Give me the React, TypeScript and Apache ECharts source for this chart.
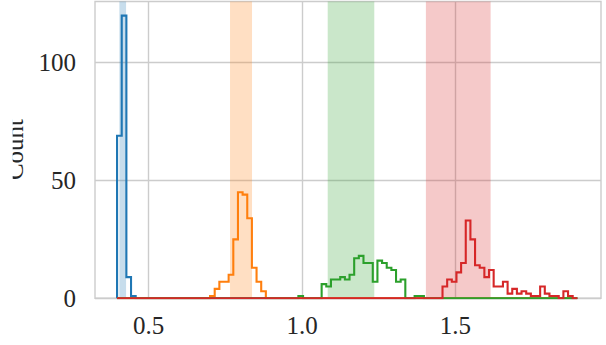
import React, { useEffect, useRef } from "react";
import * as echarts from "echarts";

// Shared histogram bins (x units)
const binStart = 0.397;
const binWidth = 0.01516;
const binCount = 99;

// Counts per hue, starting at the given bin index
const blueFirstBin = 0;
const blueCounts = [69, 120, 9, 1];
const orangeFirstBin = 20;
const orangeCounts = [1, 4, 7, 7, 10, 25, 45, 44, 34, 13, 7, 3];
const greenFirstBin = 39;
const greenCounts = [1, 0, 0, 0, 0, 6, 5, 8, 8, 9, 8, 10, 17, 18, 15, 15, 7, 16, 15, 13, 12, 7, 8, 0, 0, 1, 1];
const redFirstBin = 70;
const redCounts = [5, 8, 7, 11, 15, 33, 25, 14, 13, 9, 12, 5, 5, 7, 2, 4, 2, 3, 2, 1, 1, 5, 2, 1, 1, 0, 3, 1, 0];

// Shaded vertical bands [from, to]
const blueBand = [0.4045, 0.4263];
const orangeBand = [0.7653, 0.837];
const greenBand = [1.0838, 1.2357];
const redBand = [1.404, 1.615];

const xTicks = [0.5, 1.0, 1.5];
const yTicks = [0, 50, 100];

const colors = {
  blue: "#1f77b4",
  orange: "#ff7f0e",
  green: "#2ca02c",
  red: "#d62728",
};
const bandColors = {
  blue: "rgba(31,119,180,0.25)",
  orange: "rgba(255,127,14,0.25)",
  green: "rgba(44,160,44,0.25)",
  red: "rgba(214,39,40,0.25)",
};

function buildSteps(first: number, counts: number[]) {
  const full = new Array(binCount).fill(0);
  counts.forEach((c, i) => {
    full[first + i] = c;
  });
  const pts: number[][] = [[binStart, 0]];
  for (let i = 0; i < binCount; i++) {
    const l = binStart + i * binWidth;
    pts.push([l, full[i]], [l + binWidth, full[i]]);
  }
  pts.push([binStart + binCount * binWidth, 0]);
  return pts;
}

const FONT = '"Liberation Serif", "Times New Roman", serif';

function makeSeries(name: string, color: string, band: number[], bandColor: string, first: number, counts: number[], z: number) {
  return {
    type: "line",
    name,
    data: buildSteps(first, counts),
    showSymbol: false,
    symbol: "none",
    z,
    lineStyle: { color, width: 2.1, join: "miter" },
    itemStyle: { color },
    markArea: {
      silent: true,
      itemStyle: { color: bandColor },
      data: [[{ xAxis: band[0] }, { xAxis: band[1] }]],
    },
  };
}

export default function App() {
  const ref = useRef<HTMLDivElement>(null);
  useEffect(() => {
    if (!ref.current) return;
    const chart = echarts.init(ref.current, undefined, { renderer: "svg" });
    chart.setOption({
      animation: false,
      backgroundColor: "#ffffff",
      grid: {
        left: 95,
        right: 5,
        top: 1.5,
        bottom: 46.7,
        show: true,
        borderColor: "#cccccc",
        borderWidth: 1.4,
      },
      xAxis: {
        type: "value",
        min: 0.325,
        max: 1.975,
        axisLine: { show: false },
        axisTick: { show: false, customValues: xTicks },
        axisLabel: {
          customValues: xTicks,
          formatter: (v: number) => v.toFixed(1),
          fontFamily: FONT,
          fontSize: 25,
          color: "#262626",
          margin: 15,
        },
        splitLine: { show: true, lineStyle: { color: "#cccccc", width: 1.4 } },
      },
      yAxis: {
        type: "value",
        min: 0,
        max: 126,
        axisLine: { show: false },
        axisTick: { show: false, customValues: yTicks },
        axisLabel: {
          customValues: yTicks,
          fontFamily: FONT,
          fontSize: 25,
          color: "#262626",
          margin: 19,
        },
        splitLine: { show: true, lineStyle: { color: "#cccccc", width: 1.4 } },
      },
      graphic: [
        {
          type: "text",
          x: 27,
          y: 149.5,
          rotation: Math.PI / 2,
          z: 100,
          style: {
            text: "Count",
            fontFamily: FONT,
            fontSize: 25,
            fill: "#262626",
            align: "center",
            verticalAlign: "bottom",
          },
        },
        {
          type: "rect",
          z: 101,
          shape: { x: 0, y: 0, width: 12.7, height: 345 },
          style: { fill: "#ffffff" },
        },
      ],
      series: [
        makeSeries("blue", colors.blue, blueBand, bandColors.blue, blueFirstBin, blueCounts, 2),
        makeSeries("orange", colors.orange, orangeBand, bandColors.orange, orangeFirstBin, orangeCounts, 3),
        makeSeries("green", colors.green, greenBand, bandColors.green, greenFirstBin, greenCounts, 4),
        makeSeries("red", colors.red, redBand, bandColors.red, redFirstBin, redCounts, 5),
      ],
    });
    return () => chart.dispose();
  }, []);
  return (
    <div
      ref={ref}
      style={{ position: "fixed", left: 0, top: 0, width: 606, height: 345, background: "#fff" }}
    />
  );
}
